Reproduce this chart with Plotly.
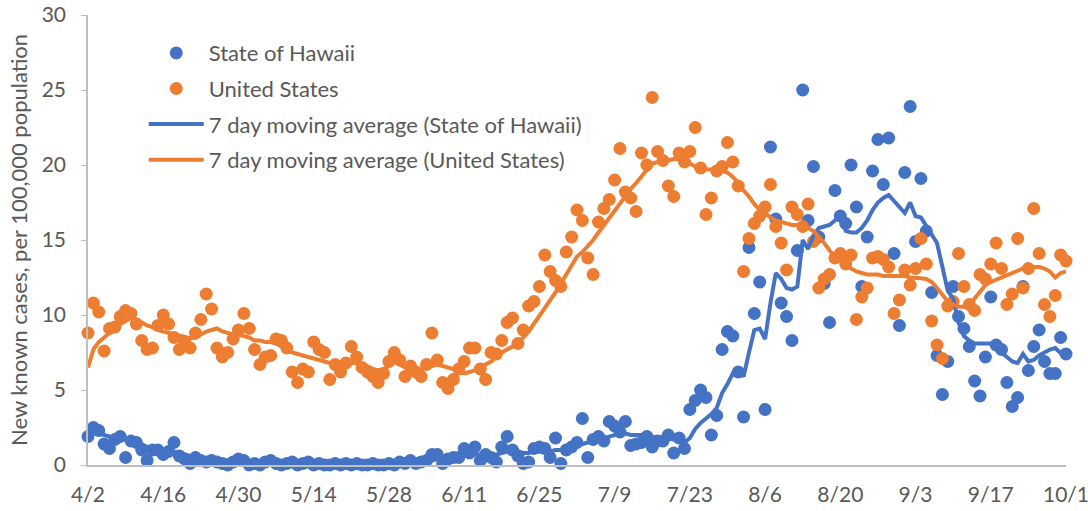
import plotly.graph_objects as go

tick_labels = ["4/2", "4/16", "4/30", "5/14", "5/28", "6/11", "6/25", "7/9",
               "7/23", "8/6", "8/20", "9/3", "9/17", "10/1"]
tick_days = [0, 14, 28, 42, 56, 70, 84, 98, 112, 126, 140, 154, 168, 182]

# Daily new known cases per 100,000 population, 4/2 .. 10/1 (one value per day)
hawaii = [
    1.9, 2.5, 2.3, 1.4, 1.1, 1.7, 1.9, 0.5, 1.6, 1.5,
    1.0, 0.3, 1.0, 1.0, 0.7, 0.9, 1.5, 0.6, 0.4, 0.1,
    0.5, 0.3, 0.2, 0.3, 0.2, 0.1, 0.0, 0.2, 0.4, 0.3,
    0.0, 0.1, 0.0, 0.2, 0.3, 0.1, 0.0, 0.1, 0.2, 0.0,
    0.1, 0.2, 0.0, 0.1, 0.0, 0.0, 0.1, 0.0, 0.1, 0.0,
    0.1, 0.0, 0.0, 0.1, 0.0, 0.0, 0.1, 0.0, 0.2, 0.1,
    0.3, 0.1, 0.2, 0.3, 0.7, 0.7, 0.1, 0.4, 0.5, 0.5,
    1.1, 0.8, 1.2, 0.3, 0.7, 0.5, 0.2, 1.2, 1.9, 1.0,
    0.6, 0.1, 0.2, 1.1, 1.2, 1.1, 0.5, 1.8, 0.1, 1.0,
    1.2, 1.5, 3.1, 0.5, 1.7, 1.9, 1.6, 2.9, 2.6, 2.2,
    2.9, 1.3, 1.4, 1.5, 1.9, 1.2, 1.6, 1.6, 2.0, 0.8,
    1.8, 1.1, 3.7, 4.3, 5.0, 4.5, 2.0, 3.3, 7.7, 8.9,
    8.6, 6.2, 3.2, 14.5, 10.1, 12.2, 3.7, 21.2, 16.4, 10.8,
    9.9, 8.3, 14.3, 25.0, 16.3, 19.9, 15.2, 12.1, 9.5, 18.3,
    16.6, 16.1, 20.0, 17.2, 11.9, 15.2, 19.6, 21.7, 18.7, 21.8,
    14.1, 9.3, 19.5, 23.9, 14.9, 19.1, 15.6, 11.5, 7.3, 4.7,
    6.9, 11.9, 9.9, 9.1, 7.9, 5.6, 4.6, 7.2, 11.2, 8.0,
    7.7, 5.5, 3.9, 4.5, 11.9, 6.3, 7.9, 9.0, 6.9, 6.1,
    6.1, 8.5, 7.4,
]

united_states = [
    8.8, 10.8, 10.2, 7.6, 9.1, 9.2, 9.9, 10.3, 10.1, 9.4,
    8.3, 7.7, 7.8, 9.3, 10.0, 9.4, 8.5, 7.7, 8.2, 7.8,
    8.8, 9.7, 11.4, 10.4, 7.8, 7.2, 7.5, 8.4, 9.0, 10.1,
    9.1, 7.7, 6.7, 7.2, 7.3, 8.4, 8.3, 7.8, 6.2, 5.5,
    6.4, 6.2, 8.2, 7.7, 7.5, 5.7, 6.7, 6.2, 6.8, 7.9,
    7.2, 6.5, 6.2, 5.9, 5.5, 6.1, 6.9, 7.5, 7.0, 5.9,
    6.6, 6.2, 5.9, 6.7, 8.8, 7.0, 5.5, 5.1, 5.7, 6.4,
    6.9, 7.8, 7.8, 6.4, 5.7, 7.5, 7.4, 8.3, 9.5, 9.8,
    8.1, 9.0, 10.6, 10.9, 11.9, 14.0, 12.9, 12.3, 11.9, 14.2,
    15.2, 17.0, 16.3, 13.8, 12.7, 16.2, 17.1, 17.7, 19.0, 21.1,
    18.2, 17.8, 16.9, 20.8, 20.0, 24.5, 20.9, 20.3, 18.6, 17.9,
    20.8, 20.2, 20.9, 22.5, 19.8, 16.7, 17.8, 19.6, 19.9, 21.5,
    20.2, 18.6, 12.9, 15.1, 16.1, 16.6, 17.2, 18.7, 15.9, 14.8,
    13.0, 17.2, 16.7, 15.9, 17.4, 14.9, 11.8, 12.4, 12.7, 13.8,
    14.1, 13.4, 14.0, 9.7, 11.2, 11.8, 13.8, 13.9, 13.7, 13.2,
    10.1, 11.0, 13.0, 12.0, 13.1, 15.1, 13.4, 9.6, 8.0, 7.1,
    10.6, 10.9, 14.1, 11.9, 10.7, 10.3, 12.7, 12.4, 13.4, 14.8,
    13.1, 10.7, 11.4, 15.1, 11.8, 13.1, 17.1, 14.1, 10.7, 9.9,
    11.3, 14.0, 13.6,
]

hawaii_7day = [
    2.0, 2.1, 2.1, 2.0, 1.9, 1.8, 1.8, 1.7, 1.6, 1.5,
    1.4, 1.2, 1.1, 1.0, 1.0, 0.9, 0.9, 0.8, 0.7, 0.6,
    0.6, 0.5, 0.4, 0.4, 0.3, 0.3, 0.3, 0.2, 0.2, 0.2,
    0.2, 0.2, 0.2, 0.2, 0.2, 0.2, 0.1, 0.1, 0.1, 0.1,
    0.1, 0.1, 0.1, 0.1, 0.1, 0.1, 0.1, 0.1, 0.1, 0.1,
    0.1, 0.1, 0.1, 0.1, 0.1, 0.1, 0.1, 0.1, 0.1, 0.1,
    0.2, 0.2, 0.2, 0.3, 0.3, 0.4, 0.4, 0.5, 0.5, 0.6,
    0.6, 0.7, 0.7, 0.7, 0.7, 0.7, 0.7, 0.8, 0.9, 0.9,
    0.9, 0.8, 0.8, 0.9, 0.9, 0.9, 0.9, 1.0, 1.0, 1.1,
    1.2, 1.3, 1.4, 1.5, 1.5, 1.6, 1.7, 1.9, 2.0, 2.1,
    2.1, 2.0, 2.0, 2.0, 1.9, 1.9, 1.8, 1.8, 1.8, 1.7,
    1.6, 1.5, 1.8, 2.4, 2.8, 3.1, 3.4, 3.8, 4.8, 5.4,
    6.1, 6.3, 5.9, 7.5, 9.0, 9.1, 8.4, 10.8, 12.8, 12.4,
    11.8, 11.7, 11.9, 15.0, 14.4, 15.3, 15.8, 15.9, 16.0, 16.3,
    16.9, 15.6, 15.5, 15.5, 15.8, 16.3, 17.0, 17.5, 17.8, 18.0,
    17.6, 17.2, 16.8, 17.5, 16.6, 16.5, 15.9, 15.4, 14.8, 13.2,
    11.6, 11.1, 9.5, 8.6, 8.3, 8.1, 8.1, 8.1, 8.1, 7.8,
    7.5, 7.2, 6.9, 6.8, 7.4, 6.9, 7.0, 7.3, 7.5, 7.7,
    7.8, 7.45, 7.7,
]

united_states_7day = [
    6.5, 7.7, 8.2, 8.5, 8.8, 9.1, 9.4, 9.6, 9.8, 9.7,
    9.5, 9.3, 9.2, 9.0, 8.9, 8.8, 8.7, 8.6, 8.5, 8.45,
    8.5, 8.7, 8.9, 9.0, 9.1, 8.9, 8.8, 8.7, 8.7, 8.6,
    8.5, 8.3, 8.3, 8.2, 8.2, 8.1, 7.9, 7.7, 7.5, 7.4,
    7.3, 7.2, 7.1, 7.0, 6.9, 6.8, 6.8, 6.8, 6.8, 6.8,
    6.8, 6.7, 6.6, 6.4, 6.3, 6.4, 6.6, 6.9, 6.7, 6.5,
    6.5, 6.4, 6.4, 6.5, 6.6, 6.7, 6.6, 6.5, 6.4, 6.2,
    6.1, 6.2, 6.3, 6.5, 6.7, 6.9, 7.2, 7.5, 7.7, 7.9,
    8.2, 8.5, 8.9, 9.4, 10.0, 10.5, 11.0, 11.5, 12.1, 12.7,
    13.3, 13.9, 14.2, 14.6, 15.0, 15.5, 16.0, 16.4, 16.9, 17.4,
    17.9, 18.4, 18.8, 19.2, 19.7, 20.1, 20.2, 20.3, 20.3, 20.4,
    20.4, 20.3, 20.1, 19.9, 19.8, 19.7, 19.7, 19.6, 19.6, 19.5,
    19.2, 18.8, 18.3, 17.9, 17.4, 17.0, 16.8, 16.5, 16.3, 16.2,
    16.1, 16.0, 16.0, 15.9, 15.8, 15.6, 15.2, 14.8, 14.3, 13.9,
    13.6, 13.3, 13.1, 12.9, 12.8, 12.7, 12.7, 12.7, 12.6, 12.6,
    12.55, 12.6, 12.6, 12.5, 12.5, 12.45, 12.4, 12.2, 11.8, 11.3,
    10.9, 10.7, 10.55, 10.55, 10.6, 11.1, 11.6, 12.0, 12.2, 12.35,
    12.45, 12.6, 12.8, 12.9, 13.1, 13.1, 13.2, 13.2, 13.1, 12.9,
    12.5, 12.8, 12.9,
]

days = list(range(len(hawaii)))

BLUE = "#4472C4"
ORANGE = "#ED7D31"
GREY_TXT = "#595959"
GREY_LINE = "#BFBFBF"
FONT = "Lato"

fig = go.Figure()
fig.add_trace(go.Scatter(x=days, y=hawaii, mode="markers", name="State of Hawaii",
                         marker=dict(color=BLUE, size=13), cliponaxis=False,
                         legendgroup="a"))
fig.add_trace(go.Scatter(x=days, y=united_states, mode="markers", name="United States",
                         marker=dict(color=ORANGE, size=13), cliponaxis=False,
                         legendgroup="b"))
fig.add_trace(go.Scatter(x=days, y=hawaii_7day, mode="lines",
                         name="7 day moving average (State of Hawaii)",
                         line=dict(color=BLUE, width=4), cliponaxis=False,
                         legendgroup="c"))
fig.add_trace(go.Scatter(x=days, y=united_states_7day, mode="lines",
                         name="7 day moving average (United States)",
                         line=dict(color=ORANGE, width=4), cliponaxis=False,
                         legendgroup="d"))

fig.update_layout(
    width=1088, height=511,
    margin=dict(l=88, r=22, t=15, b=46, autoexpand=False),
    plot_bgcolor="white", paper_bgcolor="white",
    font=dict(family=FONT, size=21, color=GREY_TXT),
    showlegend=True,
    legend=dict(x=0.057, y=0.962, xanchor="left", yanchor="top",
                bgcolor="rgba(0,0,0,0)", font=dict(size=22, color=GREY_TXT),
                tracegroupgap=4, itemwidth=55),
)
fig.update_xaxes(range=[0, 182], tickvals=tick_days, ticktext=tick_labels,
                 showgrid=False, zeroline=False, showline=True, linecolor=GREY_LINE,
                 linewidth=1.5, ticks="", automargin=False,
                 ticklabelstandoff=10, ticklabeloverflow="allow",
                 tickfont=dict(size=21, color=GREY_TXT))
fig.update_yaxes(range=[0, 30], dtick=5, tick0=0, showgrid=False, zeroline=False,
                 showline=True, linecolor=GREY_LINE, linewidth=1.5,
                 ticks="outside", ticklen=5, tickcolor=GREY_LINE, automargin=False,
                 ticklabelstandoff=11, ticklabeloverflow="allow",
                 tickfont=dict(size=21, color=GREY_TXT),
                 title=dict(text="New known cases, per 100,000 population",
                            font=dict(size=22, color=GREY_TXT), standoff=8))

fig.write_html("out.html", config={"displayModeBar": False},
               post_script="document.body.style.margin='0';document.body.style.overflow='hidden';")
